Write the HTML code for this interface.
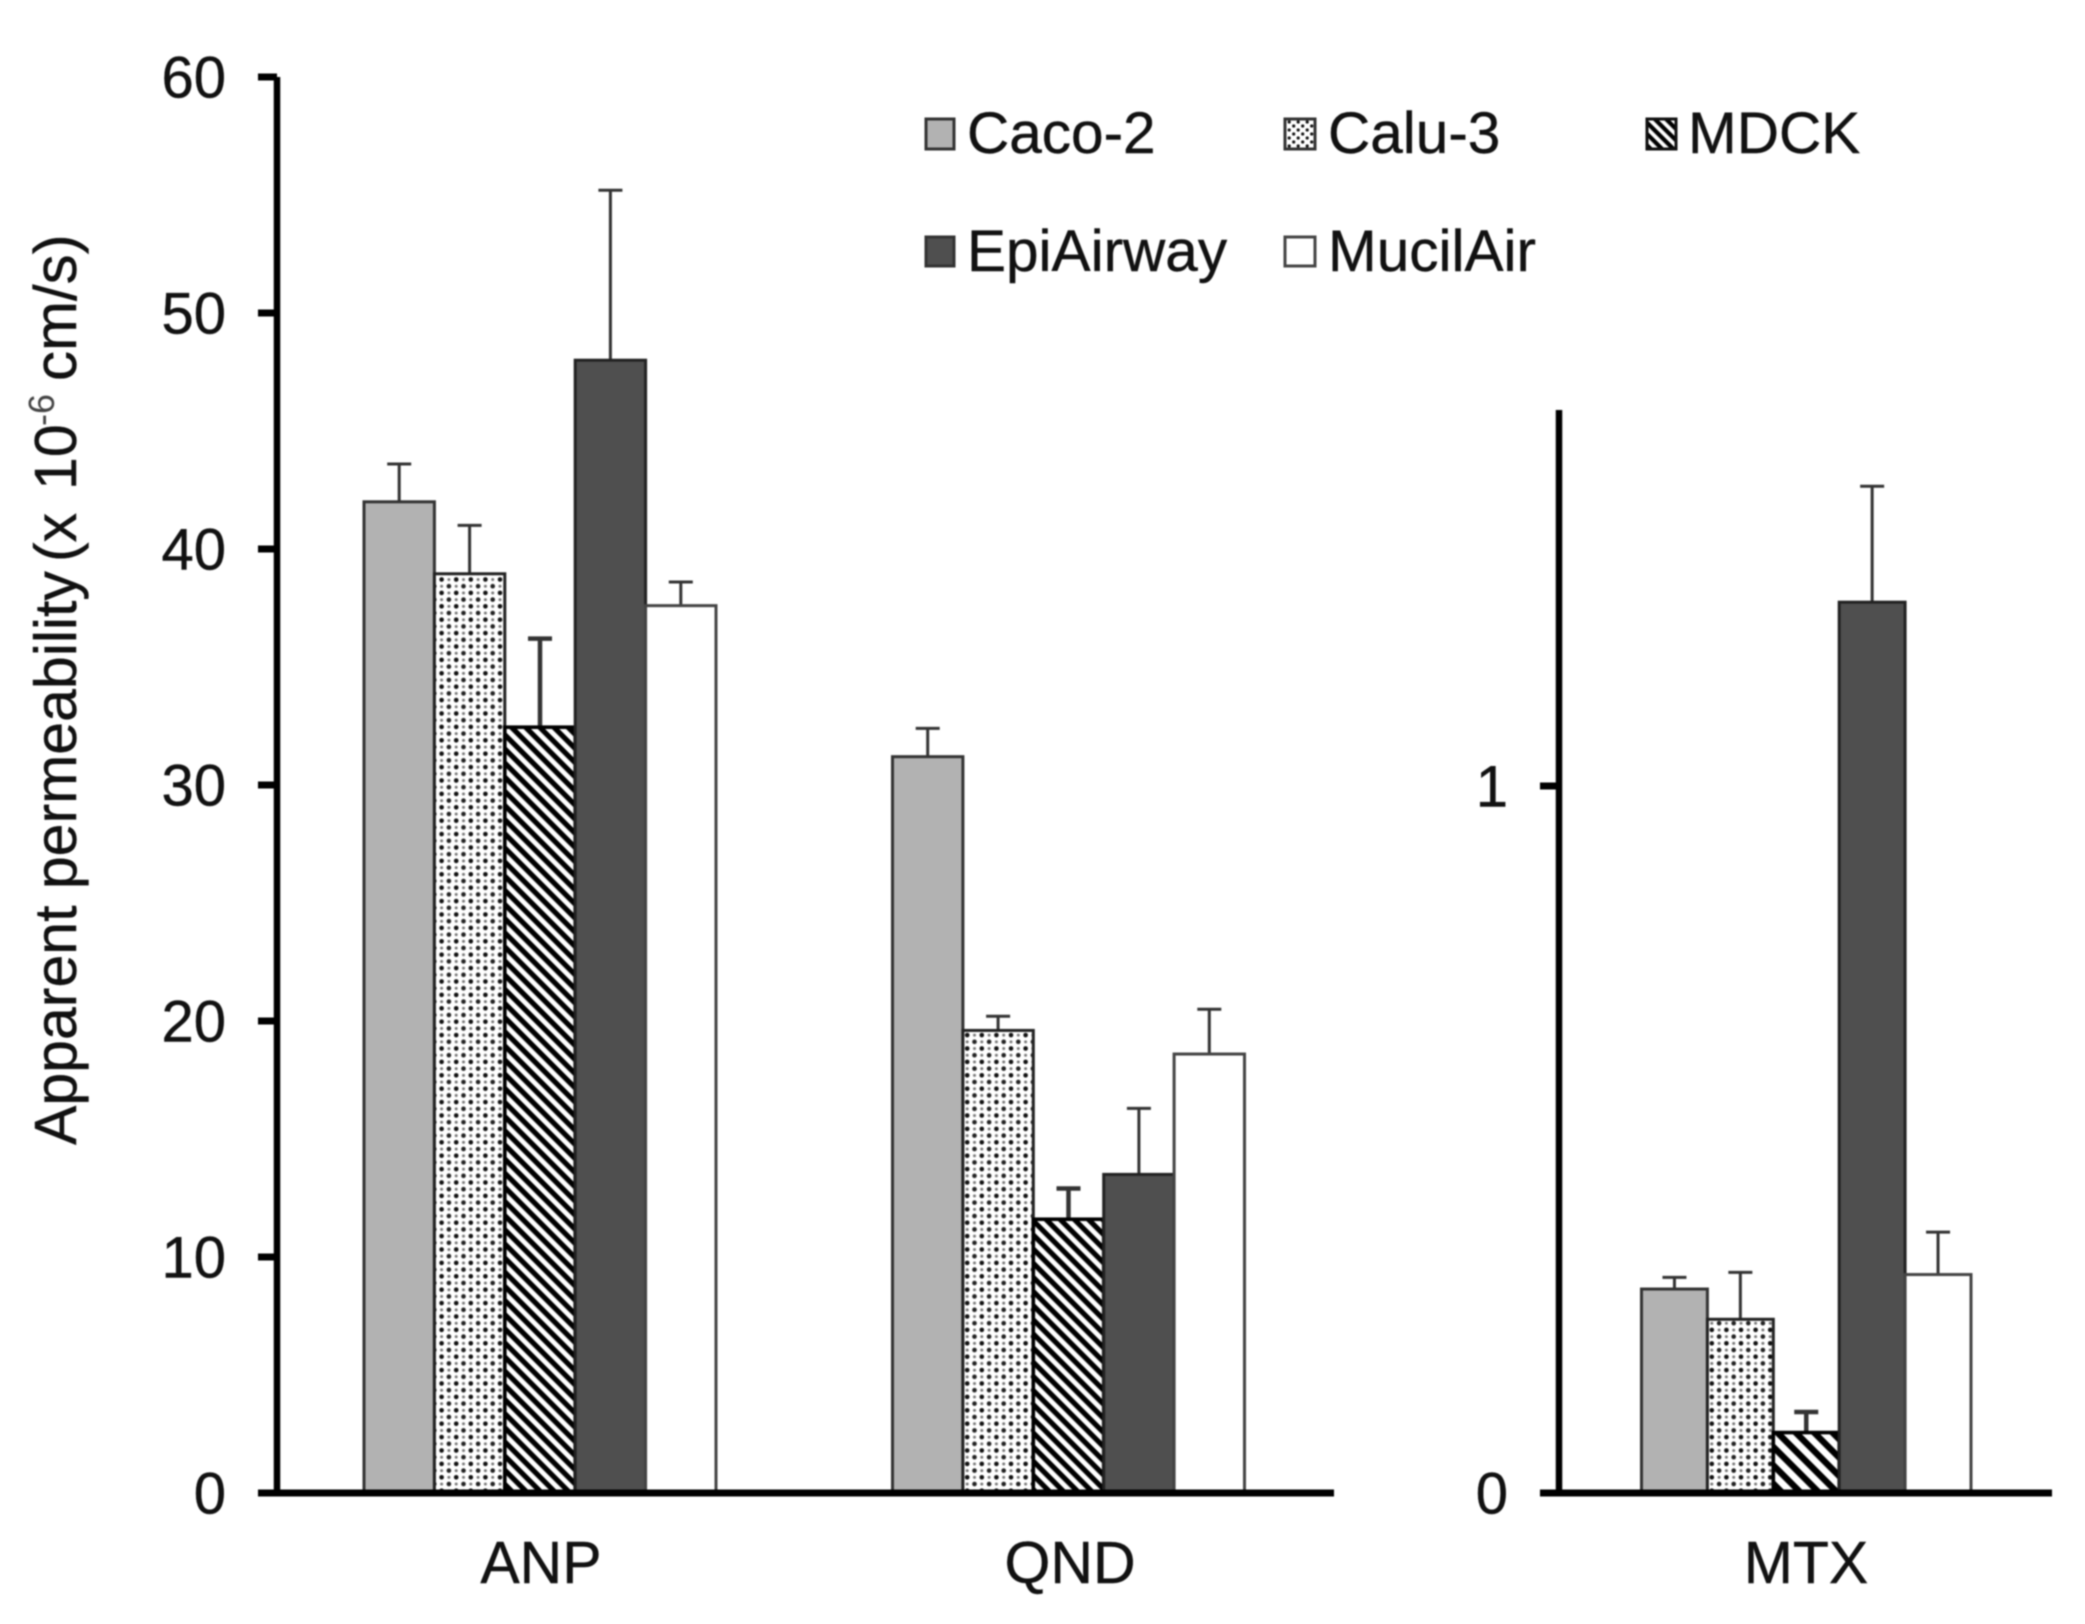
<!DOCTYPE html>
<html lang="en">
<head>
<meta charset="utf-8">
<title>Apparent permeability by cell model</title>
<style>
  html, body { margin: 0; padding: 0; background: #fff; }
  svg { display: block; filter: blur(0.7px); }
  text { font-family: "Liberation Sans", Arial, sans-serif; fill: #111; stroke: #111; stroke-width: 0.4px; }
</style>
</head>
<body>
<svg id="chart" xmlns="http://www.w3.org/2000/svg" width="2085" height="1624" viewBox="0 0 2085 1624">
  <defs>
    <pattern id="dots" patternUnits="userSpaceOnUse" width="14.6" height="13.4">
      <rect width="14.6" height="13.4" fill="#fff"/>
      <circle cx="3.6" cy="3.3" r="2.3" fill="#111"/>
      <circle cx="10.9" cy="10" r="2.3" fill="#222"/>
      <circle cx="10.9" cy="3.3" r="1.5" fill="#777"/>
      <circle cx="3.6" cy="10" r="1.5" fill="#777"/>
    </pattern>
    <pattern id="stripes" patternUnits="userSpaceOnUse" width="10" height="10" patternTransform="rotate(45)">
      <rect width="10" height="10" fill="#fff"/>
      <rect width="10" height="5.2" fill="#000"/>
    </pattern>
    <pattern id="stripes-wide" patternUnits="userSpaceOnUse" width="13" height="13" patternTransform="rotate(45)">
      <rect width="13" height="13" fill="#fff"/>
      <rect width="13" height="6.4" fill="#000"/>
    </pattern>
    <pattern id="legend-dots" patternUnits="userSpaceOnUse" width="9" height="8">
      <rect width="9" height="8" fill="#fff"/>
      <circle cx="2.2" cy="2" r="1.6" fill="#111"/>
      <circle cx="6.7" cy="6" r="1.6" fill="#111"/>
    </pattern>
    <pattern id="legend-stripes" patternUnits="userSpaceOnUse" width="8" height="8" patternTransform="rotate(45)">
      <rect width="8" height="8" fill="#fff"/>
      <rect width="8" height="4.2" fill="#000"/>
    </pattern>
  </defs>

  <g id="y-title">
    <text transform="translate(76 1145) rotate(-90)" font-size="59">Apparent permeability</text>
    <text transform="translate(76 562) rotate(-90)" font-size="59">(x</text>
    <text transform="translate(76 490) rotate(-90)" font-size="59">10</text>
    <text transform="translate(54 426) rotate(-90)" font-size="36" style="fill:#444;stroke:none">-6</text>
    <text transform="translate(76 381) rotate(-90)" font-size="60">cm/s)</text>
  </g>

  <g id="marks"></g>
  <g id="axes"></g>

  <g id="legend" font-size="58.5">
    <g>
      <rect x="926" y="119" width="28" height="30" fill="#b2b2b2" stroke="#333" stroke-width="3"/>
      <text x="967" y="153">Caco-2</text>
    </g>
    <g>
      <rect x="1285" y="119" width="30" height="30" fill="url(#legend-dots)" stroke="#333" stroke-width="3"/>
      <text x="1328" y="153">Calu-3</text>
    </g>
    <g>
      <rect x="1647" y="119" width="29" height="30" fill="url(#legend-stripes)" stroke="#111" stroke-width="3"/>
      <text x="1688" y="153">MDCK</text>
    </g>
    <g>
      <rect x="926" y="237" width="28" height="29" fill="#4f4f4f" stroke="#333" stroke-width="3"/>
      <text x="967" y="271">EpiAirway</text>
    </g>
    <g>
      <rect x="1285" y="237" width="30" height="29" fill="#fff" stroke="#444" stroke-width="3"/>
      <text x="1328" y="271">MucilAir</text>
    </g>
  </g>
</svg>

<script>
// Data (apparent permeability, x 10^-6 cm/s)
const seriesNames = ["Caco-2", "Calu-3", "MDCK", "EpiAirway", "MucilAir"];
const anpValues = [42.0, 38.95, 32.45, 48.0, 37.6];
const anpErrorTops = [43.6, 41.0, 36.2, 55.2, 38.6];
const qndValues = [31.2, 19.6, 11.6, 13.5, 18.6];
const qndErrorTops = [32.4, 20.2, 12.9, 16.3, 20.5];
const mtxValues = [0.2885, 0.2457, 0.0855, 1.26, 0.309];
const mtxErrorTops = [0.305, 0.312, 0.1146, 1.424, 0.369];
const leftTicks = [0, 10, 20, 30, 40, 50, 60];
const rightTicks = [0, 1];
const leftCategories = ["ANP", "QND"];
const rightCategories = ["MTX"];

const SVGNS = "http://www.w3.org/2000/svg";
const marks = document.getElementById("marks");
const axes = document.getElementById("axes");

const BASE_Y = 1493;
function yLeft(v) { return BASE_Y - v * (1416 / 60); }
function yRight(v) { return BASE_Y - v * 707; }

const strokes = ["#333", "#222", "#000", "#222", "#444"];
const strokeWidths = [3, 3, 3.6, 3, 3];
const errWidths = [3, 3, 4.5, 3, 3];

function make(tag, attrs, parent) {
  const el = document.createElementNS(SVGNS, tag);
  for (const k in attrs) el.setAttribute(k, attrs[k]);
  parent.appendChild(el);
  return el;
}

function drawGroup(label, values, errs, x0, step, yFn, stripeId) {
  const fills = ["#b2b2b2", "url(#dots)", "url(#" + stripeId + ")", "#4f4f4f", "#fff"];
  const group = make("g", {}, marks);
  
  
  values.forEach(function (v, i) {
    const x = x0 + i * step;
    const cx = x + step / 2;
    const top = yFn(v);
    const errTop = yFn(errs[i]);
    const slug = label.toLowerCase() + "-" + seriesNames[i].toLowerCase();

    const stem = make("line", { x1: cx, x2: cx, y1: top, y2: errTop, stroke: "#333", "stroke-width": errWidths[i] }, group);
    
    

    const cap = make("line", { x1: cx - 12, x2: cx + 12, y1: errTop, y2: errTop, stroke: "#333", "stroke-width": errWidths[i] }, group);
    
    

    const bar = make("rect", { x: x, y: top, width: step, height: BASE_Y - top, fill: fills[i], stroke: strokes[i], "stroke-width": strokeWidths[i] }, group);
    
    
  });
}

drawGroup("ANP", anpValues, anpErrorTops, 364, 70.4, yLeft, "stripes");
drawGroup("QND", qndValues, qndErrorTops, 892.5, 70.4, yLeft, "stripes");
drawGroup("MTX", mtxValues, mtxErrorTops, 1641.5, 65.9, yRight, "stripes-wide");

function drawAxis(prefix, axisX, topY, x1, x2, ticks, yFn, labelRight, cats, catXs) {
  const yAxis = make("line", { x1: axisX, x2: axisX, y1: topY, y2: BASE_Y, stroke: "#000", "stroke-width": 6.5 }, axes);
  
  

  const xAxis = make("line", { x1: x1, x2: x2, y1: BASE_Y, y2: BASE_Y, stroke: "#000", "stroke-width": 7 }, axes);
  
  

  ticks.forEach(function (t) {
    const y = yFn(t);
    const tick = make("line", { x1: axisX - 19, x2: axisX, y1: y, y2: y, stroke: "#000", "stroke-width": 7 }, axes);
    
    

    const label = make("text", { x: labelRight, y: y + 20.5, "text-anchor": "end", "font-size": 58 }, axes);
    label.textContent = t;
    
    
  });

  cats.forEach(function (c, i) {
    const label = make("text", { x: catXs[i], y: 1583, "text-anchor": "middle", "font-size": 59 }, axes);
    label.textContent = c;
    
    
  });
}

drawAxis("left", 277, 77, 261, 1334, leftTicks, yLeft, 226, leftCategories, [541, 1070]);
drawAxis("right", 1559, 410, 1543, 2052, rightTicks, yRight, 1508, rightCategories, [1806]);
</script>
</body>
</html>
